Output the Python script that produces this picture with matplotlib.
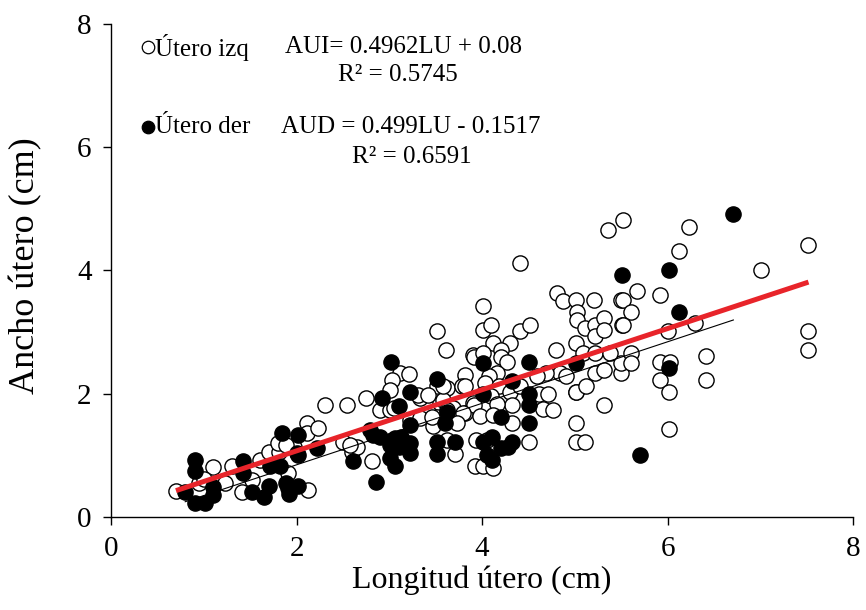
import matplotlib
matplotlib.use("Agg")
import matplotlib.pyplot as plt
import numpy as np

plt.rcParams["font.family"] = ["Liberation Serif", "DejaVu Serif"]

# Útero izquierdo (open circles): longitud (cm), ancho (cm)
izq_x = [0.70, 1.10, 1.23, 1.30, 1.52, 1.41, 1.61, 1.70, 1.81, 1.80, 2.11, 2.11, 2.23, 1.91, 2.12,
         2.31, 2.54, 2.50, 3.51, 3.61, 3.12, 3.21, 3.03, 3.51, 3.62, 3.82, 3.90, 3.78, 3.01, 2.75,
         3.33, 2.90, 3.01, 3.55, 3.58, 3.69, 3.82, 3.90, 3.22, 3.33, 3.51, 3.47, 3.69, 2.81, 2.60,
         2.65, 3.62, 3.71, 3.94, 3.92, 1.97, 1.89, 4.41, 4.81, 4.87, 5.01, 5.21, 5.50, 4.01, 5.02,
         5.02, 5.11, 5.22, 5.31, 5.22, 5.31, 5.51, 4.01, 4.10, 4.41, 4.52, 4.12, 4.30, 4.21, 4.80,
         5.01, 3.91, 4.21, 4.27, 5.09, 5.22, 5.22, 5.31, 5.50, 5.50, 4.84, 4.91, 4.69, 4.59, 4.16,
         4.07, 4.03, 3.82, 4.18, 4.10, 4.30, 4.41, 4.61, 4.71, 5.01, 5.31, 4.66, 4.77, 4.32, 4.16,
         3.91, 3.80, 3.62, 3.98, 4.12, 3.73, 4.32, 5.01, 4.12, 4.01, 4.12, 4.51, 5.01, 5.11, 5.36,
         5.52, 6.23, 7.52, 6.12, 7.01, 5.67, 5.52, 5.92, 5.61, 5.52, 6.30, 6.01, 7.52, 7.52, 5.38,
         5.61, 5.61, 5.92, 6.03, 5.92, 6.42, 6.42, 6.02, 5.01, 5.12, 6.02, 3.05, 3.31, 3.42, 3.46,
         2.58, 4.01, 4.05, 3.58, 0.95, 1.00]
izq_y = [0.42, 0.81, 0.55, 0.83, 0.60, 0.41, 0.92, 1.05, 1.05, 1.20, 1.52, 1.36, 1.44, 0.71, 0.44,
         1.82, 1.82, 1.22, 3.01, 2.71, 2.34, 2.32, 2.22, 2.12, 2.10, 2.30, 2.63, 2.12, 2.06, 1.93,
         1.93, 1.74, 1.74, 1.85, 1.90, 1.77, 1.69, 1.85, 1.57, 1.60, 1.63, 1.47, 1.57, 0.91, 1.06,
         1.14, 1.25, 1.03, 1.25, 0.82, 1.14, 1.17, 4.12, 3.63, 3.50, 3.52, 3.52, 3.52, 3.42, 3.33,
         3.20, 3.07, 3.12, 3.23, 2.93, 3.03, 3.12, 3.04, 3.12, 3.01, 3.12, 2.82, 2.82, 2.71, 2.71,
         2.82, 2.60, 2.60, 2.52, 2.66, 2.66, 2.33, 2.39, 2.33, 2.50, 2.33, 2.28, 2.33, 2.28, 2.33,
         2.28, 2.17, 2.12, 2.12, 1.96, 2.03, 2.12, 2.00, 2.00, 2.03, 1.82, 1.76, 1.74, 1.82, 1.84,
         1.82, 1.68, 1.74, 1.64, 1.65, 1.53, 1.53, 1.53, 1.14, 0.82, 0.80, 1.22, 1.22, 1.22, 4.66,
         4.82, 4.71, 4.42, 4.31, 4.01, 3.66, 3.52, 3.60, 3.33, 3.12, 3.15, 3.01, 3.01, 2.71, 2.66,
         2.66, 2.50, 2.52, 2.52, 2.22, 2.62, 2.22, 2.02, 2.02, 2.12, 1.42, 1.77, 1.98, 1.98, 1.63,
         1.17, 2.66, 1.25, 2.12, 0.55, 0.62]

# Útero derecho (filled circles)
der_x = [0.91, 0.91, 0.80, 0.91, 1.01, 1.10, 1.10, 1.42, 1.42, 1.52, 1.65, 1.70, 1.71, 1.82, 1.84,
         2.02, 2.22, 2.00, 1.91, 2.02, 1.92, 2.02, 1.89, 3.02, 3.51, 3.22, 2.92, 3.11, 3.22, 3.62,
         3.60, 2.79, 2.90, 3.03, 3.13, 3.22, 3.10, 3.22, 3.01, 3.06, 2.61, 3.51, 3.51, 3.71, 2.86,
         2.83, 3.06, 3.01, 5.51, 4.01, 4.51, 5.01, 4.32, 4.01, 4.51, 4.51, 4.21, 4.51, 4.01, 4.11,
         4.21, 4.32, 4.28, 4.11, 4.05, 6.71, 6.02, 6.12, 6.02, 5.70]
der_y = [0.92, 0.74, 0.41, 0.23, 0.23, 0.36, 0.49, 0.91, 0.71, 0.41, 0.32, 0.50, 0.82, 0.82, 1.36,
         1.33, 1.12, 1.04, 0.47, 0.50, 0.37, 1.00, 0.55, 2.52, 2.24, 2.03, 1.93, 1.80, 1.49, 1.71,
         1.53, 1.41, 1.30, 1.25, 1.30, 1.20, 1.14, 1.04, 0.96, 0.83, 0.91, 1.22, 1.03, 1.22, 0.56,
         1.33, 1.28, 1.17, 3.93, 2.50, 2.52, 2.50, 2.20, 2.00, 2.00, 1.82, 1.63, 1.53, 1.22, 1.30,
         1.12, 1.22, 1.14, 0.93, 1.01, 4.92, 4.01, 3.32, 2.41, 1.01]

# regression fits shown in the figure
aui_slope, aui_int = 0.4962, 0.08
aud_slope, aud_int = 0.499, -0.1517

fig = plt.figure(figsize=(8.66, 6.10), dpi=100)
ax = fig.add_axes([0.1282, 0.1525, 0.8568, 0.8082])

ax.scatter(izq_x, izq_y, s=120, facecolors="white", edgecolors="black", linewidths=1.0, zorder=2)
ax.scatter(der_x, der_y, s=120, facecolors="black", edgecolors="black", linewidths=1.0, zorder=3)

# trend lines over each data range
xa = np.array([min(izq_x), max(izq_x)])
xd = np.array([min(der_x), max(der_x)])
ax.plot(xd, aud_slope * xd + aud_int, color="black", lw=0.8, zorder=4)
ax.plot(xa, aui_slope * xa + aui_int, color="#e8242a", lw=3.6, solid_capstyle="butt", zorder=5)

ax.set_xlim(0, 8)
ax.set_ylim(0, 8)
ax.set_xticks([0, 2, 4, 6, 8])
ax.set_yticks([0, 2, 4, 6, 8])
ax.spines["top"].set_visible(False)
ax.spines["right"].set_visible(False)
ax.spines["left"].set_linewidth(1.0)
ax.spines["bottom"].set_linewidth(1.0)
ax.tick_params(direction="out", length=6, width=1.0, labelsize=21, pad=8)
ax.set_xlabel("Longitud útero (cm)", fontsize=23, labelpad=2)
ax.set_ylabel("Ancho útero (cm)", fontsize=26)
ax.yaxis.set_label_coords(-0.093, 0.51)

# legend block with equations
fs = 18
ax.plot([0.05], [0.953], marker="o", ms=9, mfc="white", mec="black", mew=0.9,
        transform=ax.transAxes, clip_on=False)
ax.text(0.059, 0.953, "Útero izq", fontsize=fs, va="center", transform=ax.transAxes)
ax.text(0.2345, 0.953, "AUI= 0.4962LU + 0.08", fontsize=fs, va="center", transform=ax.transAxes)
ax.text(0.306, 0.897, "R² = 0.5745", fontsize=fs, va="center", transform=ax.transAxes)
ax.plot([0.05], [0.791], marker="o", ms=9, mfc="black", mec="black", mew=0.9,
        transform=ax.transAxes, clip_on=False)
ax.text(0.059, 0.791, "Útero der", fontsize=fs, va="center", transform=ax.transAxes)
ax.text(0.229, 0.791, "AUD = 0.499LU - 0.1517", fontsize=fs, va="center", transform=ax.transAxes)
ax.text(0.325, 0.730, "R² = 0.6591", fontsize=fs, va="center", transform=ax.transAxes)

fig.savefig("out.png", dpi=100)
